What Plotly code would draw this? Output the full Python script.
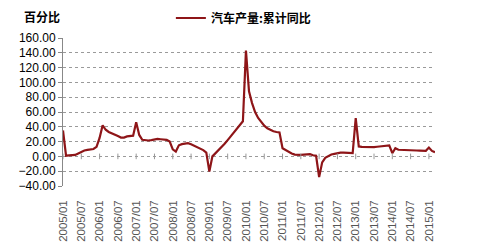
import plotly.graph_objects as go

# categories: monthly 2005/01 .. 2015/03
months = [f"{y}/{m:02d}" for y in range(2005, 2016) for m in range(1, 13)][:123]

v2005 = [35, 1, 1.5, 1.5, 2, 4, 6.5, 8, 8.8, 9.2, 10, 13]
v2006 = [25, 42, 36, 33, 31.5, 30, 27.5, 25.5, 25.5, 27, 28, 28]
v2007 = [46, 29, 22.5, 21.5, 21.5, 22, 23, 23.6, 23.2, 22.5, 22.3, 20]
v2008 = [9.5, 6.5, 15, 16.5, 17.5, 17.8, 16.5, 14.5, 12.5, 10.5, 8.5, 5.2]
v2009 = [-20.5, 0, 4, 8.5, 12.5, 17, 22, 27, 32, 37, 42, 47.5]
v2010 = [143, 88, 72, 60, 52, 46, 41.5, 38, 35.5, 34, 33, 32.4]
v2011 = [11, 8.5, 6, 4, 2.5, 2, 2, 2.5, 3.2, 3, 1.5, 0.8]
v2012 = [-28, -8, -2, 0.5, 2.5, 3.5, 4.5, 5, 5, 5, 4.8, 4.6]
v2013 = [51.6, 13.5, 13, 12.8, 12.5, 12.5, 12.6, 13, 13.3, 13.8, 14.3, 14.8]
v2014 = [4.3, 11, 9, 9, 8.8, 8.8, 8.6, 8.3, 8, 7.9, 7.8, 7.5]
v2015 = [12, 7.4, 5.5]
values = v2005 + v2006 + v2007 + v2008 + v2009 + v2010 + v2011 + v2012 + v2013 + v2014 + v2015

tick_labels = months[0:121:6]
y_ticks = [-40, -20, 0, 20, 40, 60, 80, 100, 120, 140, 160]

series_name = "汽车产量:累计同比"
unit_label = "百分比"

fig = go.Figure()
fig.add_trace(go.Scatter(
    x=months, y=values, mode="lines", name=series_name,
    line=dict(color="#8e1518", width=2.2),
))
# small tick marks on the zero line
fig.add_trace(go.Scatter(
    x=tick_labels, y=[0] * len(tick_labels), mode="markers", showlegend=False,
    hoverinfo="skip",
    marker=dict(symbol="line-ns", size=4, line=dict(color="#999999", width=1)),
))

fig.update_layout(
    width=480, height=248,
    margin=dict(l=63, r=45, t=38, b=62, autoexpand=False),
    paper_bgcolor="white", plot_bgcolor="white",
    font=dict(family="Liberation Sans, Arial, sans-serif", color="#000000"),
    showlegend=True,
    legend=dict(
        x=0.29, y=1.135, xanchor="left", yanchor="middle",
        orientation="h", bgcolor="rgba(0,0,0,0)",
        font=dict(family="Noto Sans CJK SC", size=12, color="#000000", weight="bold"),
        itemwidth=30,
    ),
    annotations=[dict(
        text="<b>" + unit_label + "</b>", xref="paper", yref="paper",
        x=-0.11, y=1.142, xanchor="left", yanchor="middle", showarrow=False,
        font=dict(family="Noto Sans CJK SC", size=12, color="#000000"),
    )],
)
fig.update_xaxes(
    type="category", range=[0, len(months) - 1],
    tickmode="array", tickvals=tick_labels, ticktext=tick_labels,
    tickangle=-90, ticks="", ticklabelstandoff=11,
    tickfont=dict(size=11.5, color="#555555"),
    showgrid=False, showline=False, zeroline=False,
)
fig.update_yaxes(
    range=[-40, 160], tickmode="array", tickvals=y_ticks,
    tickformat=".2f", ticks="outside", ticklen=4, tickcolor="#888888",
    tickfont=dict(size=12, color="#000000"),
    showline=True, linecolor="#888888", linewidth=1,
    showgrid=True, gridcolor="#9a9a9a", griddash="dot", gridwidth=1,
    zeroline=False,
)

fig.write_html("out.html")
